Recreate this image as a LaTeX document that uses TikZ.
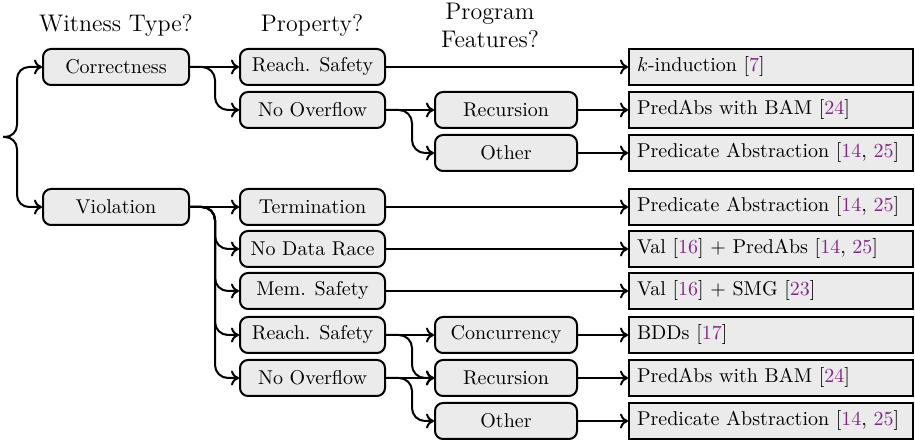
\documentclass[tikz,border=0pt]{standalone}
\usepackage{tikz}
\usetikzlibrary{arrows.meta,positioning,calc}
\definecolor{boxgray}{RGB}{235,235,235}
\definecolor{citepurple}{RGB}{130,40,130}
\newcommand{\refnum}[1]{\textcolor{citepurple}{#1}}

\begin{document}
\begin{tikzpicture}[x=0.5pt, y=-0.5pt,
  choice/.style={rectangle, rounded corners=4pt, draw=black, line width=1pt,
                 fill=boxgray, minimum height=18pt, inner sep=0pt},
  result/.style={rectangle, draw=black, line width=1pt, fill=boxgray,
                 minimum height=18pt, text width=134pt, inner xsep=4pt,
                 inner ysep=0pt, align=left, anchor=west},
  head/.style={font=\large, align=center},
  arr/.style={-{To[length=4pt,width=7.5pt]}, line width=1pt,
              rounded corners=6.5pt},
]
\useasboundingbox (0,0) rectangle (915,442);

% Column headers
\node[head] (hwit)  at (116, 26) {Witness Type?};
\node[head] (hprop) at (312, 26) {Property?};
\node[head] (hfeat) at (490, 25) {Program\\Features?};

% Witness type
\node[choice, minimum width=73pt] (wcorr) at (116, 67)  {Correctness};
\node[choice, minimum width=73pt] (wviol) at (116, 207) {Violation};

% Property
\node[choice, minimum width=72.5pt] (pcreach) at (312.5, 67)  {Reach. Safety};
\node[choice, minimum width=72.5pt] (pcovf)   at (312.5, 110) {No Overflow};
\node[choice, minimum width=72.5pt] (pterm)   at (312.5, 207) {Termination};
\node[choice, minimum width=72.5pt] (prace)   at (312.5, 249) {No Data Race};
\node[choice, minimum width=72.5pt] (pmem)    at (312.5, 291) {Mem. Safety};
\node[choice, minimum width=72.5pt] (preach)  at (312.5, 335) {Reach. Safety};
\node[choice, minimum width=72.5pt] (povf)    at (312.5, 378) {No Overflow};

% Program features
\node[choice, minimum width=71pt] (fcrec)  at (506, 110) {Recursion};
\node[choice, minimum width=71pt] (fcoth)  at (506, 153) {Other};
\node[choice, minimum width=71pt] (fconc)  at (506, 335) {Concurrency};
\node[choice, minimum width=71pt] (frec)   at (506, 378) {Recursion};
\node[choice, minimum width=71pt] (foth)   at (506, 421) {Other};

% Chosen analysis
\node[result] (rkind)  at (628, 67)  {$k$-induction~[\refnum{7}]};
\node[result] (rcbam)  at (628, 110) {PredAbs with BAM [\refnum{24}]};
\node[result] (rcpa)   at (628, 153) {Predicate Abstraction [\refnum{14}, \refnum{25}]};
\node[result] (rterm)  at (628, 207) {Predicate Abstraction [\refnum{14}, \refnum{25}]};
\node[result] (rrace)  at (628, 249) {Val [\refnum{16}] $+$ PredAbs [\refnum{14}, \refnum{25}]};
\node[result] (rmem)   at (628, 291) {Val [\refnum{16}] $+$ SMG [\refnum{23}]};
\node[result] (rbdd)   at (628, 335) {BDDs [\refnum{17}]};
\node[result] (rbam)   at (628, 378) {PredAbs with BAM [\refnum{24}]};
\node[result] (rpa)    at (628, 421) {Predicate Abstraction [\refnum{14}, \refnum{25}]};

% Brace into the witness types
\coordinate (brace) at (3, 137);
\draw[arr, rounded corners=6pt] (brace) -- ++(14,0) |- (wcorr.west);
\draw[arr, rounded corners=6pt] (brace) -- ++(14,0) |- (wviol.west);

% Witness type -> property
\draw[arr] (wcorr.east) -- (pcreach.west);
\draw[arr] (wcorr.east) -- ++(25,0) |- (pcovf.west);
\draw[arr] (wviol.east) -- (pterm.west);
\foreach \p in {prace,pmem,preach,povf}{
  \draw[arr] (wviol.east) -- ++(25,0) |- (\p.west);
}

% Property -> program features
\draw[arr] (pcovf.east) -- (fcrec.west);
\draw[arr] (pcovf.east) -- ++(26,0) |- (fcoth.west);
\draw[arr] (preach.east) -- (fconc.west);
\draw[arr] (preach.east) -- ++(26,0) |- (frec.west);
\draw[arr] (povf.east) -- (frec.west);
\draw[arr] (povf.east) -- ++(26,0) |- (foth.west);

% Into the analyses
\foreach \a/\b in {pcreach/rkind,fcrec/rcbam,fcoth/rcpa,pterm/rterm,
                   prace/rrace,pmem/rmem,fconc/rbdd,frec/rbam,foth/rpa}{
  \draw[arr] (\a.east) -- (\b.west);
}
\end{tikzpicture}
\end{document}
